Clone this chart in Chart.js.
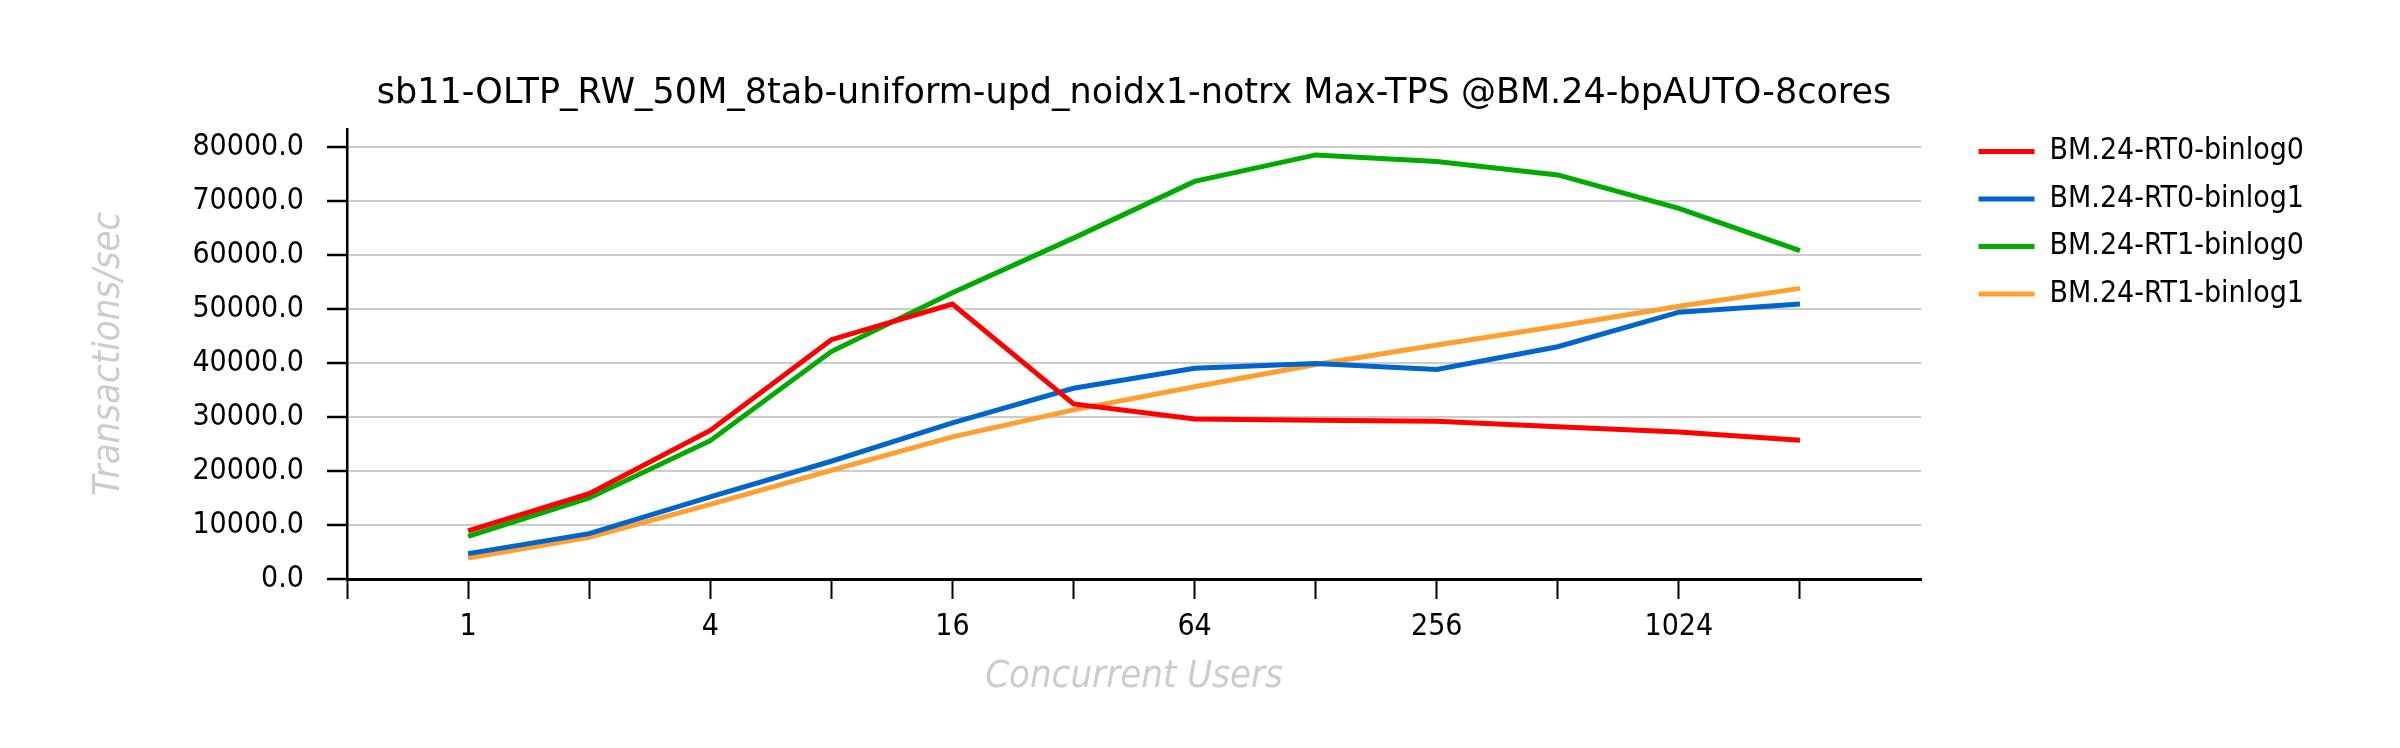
<!DOCTYPE html>
<html>
<head>
<meta charset="utf-8">
<script src="https://cdn.jsdelivr.net/npm/chart.js@4"></script>
<style>
  html, body { margin: 0; padding: 0; background: #fff; }
</style>
</head>
<body>
<canvas id="tpsChart" width="2400" height="748"></canvas>
<script>
// concurrent users (x positions 1..12 on the axis)
const users = [1, 2, 4, 8, 16, 32, 64, 128, 256, 512, 1024, 2048];

const rt0Binlog0 = [8900, 15800, 27500, 44300, 50900, 32400, 29600, 29400, 29200, 28200, 27200, 25700];
const rt0Binlog1 = [4700, 8400, 15200, 21800, 28900, 35300, 39000, 39900, 38800, 43000, 49400, 50900];
const rt1Binlog0 = [7900, 15000, 25600, 42100, 53000, 63100, 73600, 78500, 77300, 74800, 68600, 60800];
const rt1Binlog1 = [3900, 7700, 13800, 20100, 26300, 31300, 35600, 39700, 43300, 46800, 50500, 53800];

const yTicks = [0, 10000, 20000, 30000, 40000, 50000, 60000, 70000, 80000];

const FONT = "'DejaVu Sans Condensed', 'DejaVu Sans', sans-serif";

function series(label, values, color) {
    return {
        label: label,
        data: values.map((v, i) => ({ x: i + 1, y: v })),
        borderColor: color,
        backgroundColor: color,
        borderWidth: 5,
        pointRadius: 0,
        tension: 0
    };
}

Chart.defaults.color = '#000';
Chart.defaults.font.family = FONT;
Chart.defaults.font.size = 30;

new Chart(document.getElementById('tpsChart'), {
    type: 'line',
    data: {
        datasets: [
            series('BM.24-RT0-binlog0', rt0Binlog0, '#ff0000'),
            series('BM.24-RT0-binlog1', rt0Binlog1, '#0066cc'),
            series('BM.24-RT1-binlog0', rt1Binlog0, '#00aa00'),
            series('BM.24-RT1-binlog1', rt1Binlog1, '#ff9f30')
        ]
    },
    options: {
        responsive: false,
        animation: false,
        devicePixelRatio: 1,
        layout: { padding: { left: 0, right: 86, top: 0, bottom: 0 } },
        plugins: {
            title: {
                display: true,
                fullSize: false,
                text: 'sb11-OLTP_RW_50M_8tab-uniform-upd_noidx1-notrx Max-TPS @BM.24-bpAUTO-8cores',
                font: { family: "'DejaVu Sans', sans-serif", size: 35, weight: 'normal' },
                color: '#000',
                padding: { top: 73, bottom: 14 }
            },
            legend: {
                position: 'right',
                align: 'start',
                fullSize: true,
                title: {
                    display: true,
                    text: ' ',
                    font: { size: 10 },
                    padding: { top: 107, bottom: 0 }
                },
                labels: {
                    usePointStyle: true,
                    pointStyle: 'line',
                    pointStyleWidth: 56,
                    padding: 17.5,
                    font: { size: 30 },
                    color: '#000'
                }
            },
            tooltip: { enabled: false }
        },
        scales: {
            x: {
                type: 'linear',
                min: 0,
                max: 13,
                afterBuildTicks: (scale) => {
                    scale.ticks = users.map((u, i) => ({ value: i })).concat([{ value: 12 }]);
                },
                afterFit: (scale) => { scale.height = 169; },
                ticks: {
                    autoSkip: false,
                    maxRotation: 0,
                    padding: 10,
                    callback: (v) => (v % 2 === 1 ? String(users[v - 1]) : '')
                },
                grid: {
                    drawOnChartArea: false,
                    tickLength: 20,
                    tickColor: '#000',
                    tickWidth: 2
                },
                border: { color: '#000', width: 3 },
                title: {
                    display: true,
                    text: 'Concurrent Users',
                    color: '#cccccc',
                    font: { size: 38, style: 'italic' },
                    padding: { top: 0, bottom: 48 }
                }
            },
            y: {
                min: 0,
                max: 83300,
                afterBuildTicks: (scale) => {
                    scale.ticks = yTicks.map(v => ({ value: v }));
                },
                afterFit: (scale) => { scale.width = 347; },
                ticks: {
                    padding: 23,
                    callback: (v) => v.toFixed(1)
                },
                grid: {
                    color: '#cccccc',
                    lineWidth: 2,
                    tickLength: 20,
                    tickColor: '#000',
                    tickWidth: 2.5
                },
                border: { color: '#000', width: 2.5 },
                title: {
                    display: true,
                    text: 'Transactions/sec',
                    color: '#cccccc',
                    font: { size: 38, style: 'italic' },
                    padding: { top: 86, bottom: 0 }
                }
            },
            // empty right-hand spacer between plot and legend
            spacer: {
                position: 'right',
                display: true,
                grid: { display: false },
                ticks: { display: false },
                border: { display: false },
                afterFit: (scale) => { scale.width = 40; }
            }
        }
    }
});
</script>
</body>
</html>
